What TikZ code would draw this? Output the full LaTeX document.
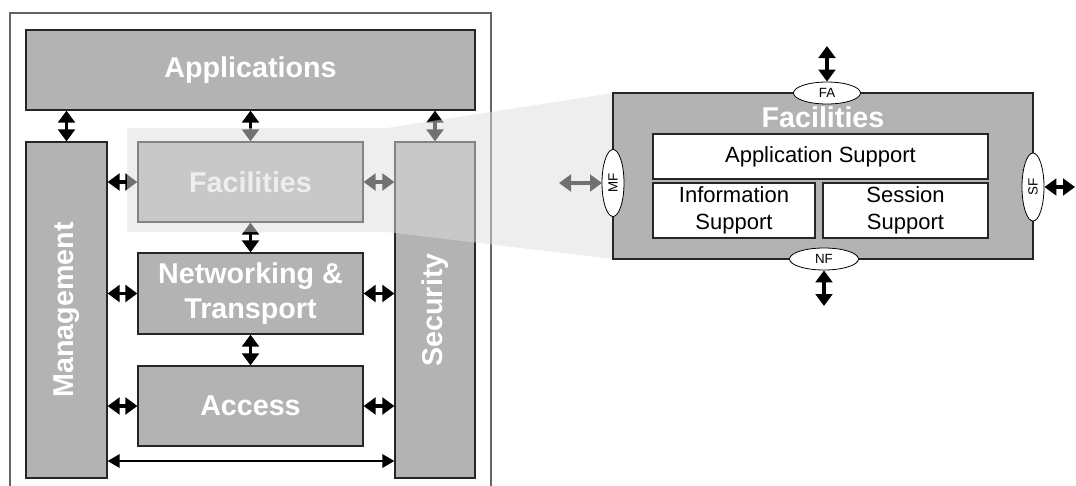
\documentclass[tikz,border=0pt]{standalone}
\usepackage{fontspec}
\setmainfont{Liberation Sans}
\usetikzlibrary{arrows.meta,shapes.geometric}
\definecolor{boxgray}{RGB}{179,179,179}
\definecolor{framegray}{RGB}{100,100,100}
\definecolor{overlaygray}{RGB}{222,222,222}
\begin{document}
\begin{tikzpicture}[x=0.75pt,y=-0.75pt,
  box/.style={draw=black!85,line width=0.9pt,fill=boxgray,inner sep=0pt,
    text=white,font=\fontsize{21.5}{26}\selectfont\bfseries,align=center},
  whitebox/.style={draw=black!85,line width=0.8pt,fill=white,inner sep=0pt,
    font=\fontsize{16.5}{20}\selectfont,align=center},
  iface/.style={ellipse,draw=black,line width=0.6pt,fill=white,inner sep=0pt,
    font=\fontsize{10}{11}\selectfont},
  biarrow/.style={line width=2.6pt,{Triangle[length=9pt,width=12.5pt]}-{Triangle[length=9pt,width=12.5pt]}},
  longarrow/.style={line width=1.6pt,{Triangle[length=9pt,width=10pt]}-{Triangle[length=9pt,width=10pt]}}
]
\useasboundingbox (0,0) rectangle (1076,486);
% outer frame
\draw[framegray,line width=0.8pt] (10,490) -- (10,13) -- (491,13) -- (491,490);
% left stack
\node[box,minimum width=449*0.75pt,minimum height=80*0.75pt] (app) at (250.5,70) {Applications};
\node[box,minimum width=81*0.75pt,minimum height=336*0.75pt] (mgmt) at (66.5,310) {};
\node[text=white,font=\fontsize{21.5}{26}\selectfont\bfseries,rotate=90] (mgmtlbl) at (mgmt.center) {Management};
\node[box,minimum width=80*0.75pt,minimum height=336*0.75pt] (sec) at (435,310) {};
\node[text=white,font=\fontsize{21.5}{26}\selectfont\bfseries,rotate=90] (seclbl) at (sec.center) {Security};
\node[box,minimum width=225*0.75pt,minimum height=80*0.75pt] (fac) at (250.5,182) {Facilities};
\node[box,minimum width=225*0.75pt,minimum height=81*0.75pt] (net) at (250.5,293.5) {Networking \&\\Transport};
\node[box,minimum width=225*0.75pt,minimum height=80*0.75pt] (acc) at (250.5,406) {Access};
% connectors left
\draw[biarrow] (mgmt.north) -- (mgmt.north |- app.south);
\draw[biarrow] (fac.north) -- (app.south);
\draw[biarrow] (sec.north) -- (sec.north |- app.south);
\draw[biarrow] (fac.west) -- (fac.west -| mgmt.east);
\draw[biarrow] (fac.east) -- (fac.east -| sec.west);
\draw[biarrow] (net.west) -- (net.west -| mgmt.east);
\draw[biarrow] (net.east) -- (net.east -| sec.west);
\draw[biarrow] (acc.west) -- (acc.west -| mgmt.east);
\draw[biarrow] (acc.east) -- (acc.east -| sec.west);
\draw[biarrow] (fac.south) -- (net.north);
\draw[biarrow] (net.south) -- (acc.north);
\coordinate (bot) at (0,461);
\draw[longarrow] (mgmt.east |- bot) -- (sec.west |- bot);
% MF arrow (under overlay)
\coordinate (mfend) at (559,183);
\coordinate (mfin) at (602,183);
\draw[biarrow] (mfend) -- (mfin);
% overlay zoom
\fill[overlaygray,opacity=0.51] (127,128) -- (387,128) -- (613,93) -- (613,259) -- (387,232) -- (127,232) -- cycle;
% right detail
\node[draw=black!85,line width=0.9pt,fill=boxgray,minimum width=420*0.75pt,minimum height=166*0.75pt,inner sep=0pt] (big) at (823,176) {};
\node[text=white,font=\fontsize{21.5}{26}\selectfont\bfseries,inner sep=0pt] (bigtitle) at (823,117) {Facilities};
\node[whitebox,minimum width=335*0.75pt,minimum height=45*0.75pt] (appsup) at (820.5,156.5) {Application Support};
\node[whitebox,minimum width=162*0.75pt,minimum height=55*0.75pt] (infsup) at (734,210.5) {Information\\Support};
\node[whitebox,minimum width=165*0.75pt,minimum height=55*0.75pt] (sessup) at (905.5,210.5) {Session\\Support};
\node[iface,minimum width=67*0.75pt,minimum height=22*0.75pt] (fa) at (827,93) {FA};
\node[iface,minimum width=69*0.75pt,minimum height=22*0.75pt] (nf) at (824,259) {NF};
\node[iface,minimum width=22*0.75pt,minimum height=67*0.75pt] (mf) at (613,183) {};
\node[font=\fontsize{10}{11}\selectfont,rotate=90,inner sep=0pt] (mflbl) at (mf.center) {MF};
\node[iface,minimum width=22*0.75pt,minimum height=68*0.75pt] (sf) at (1033,187) {};
\node[font=\fontsize{10}{11}\selectfont,rotate=90,inner sep=0pt] (sflbl) at (sf.center) {SF};
\coordinate (fatop) at (827,46);
\coordinate (nfbot) at (824,306);
\coordinate (sfend) at (1075,187);
\draw[biarrow] (fatop) -- (fa.north);
\draw[biarrow] (nf.south) -- (nfbot);
\draw[biarrow] (sf.east) -- (sfend);
\end{tikzpicture}
\end{document}
